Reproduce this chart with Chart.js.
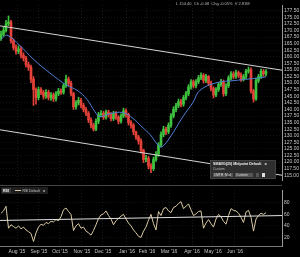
<!DOCTYPE html>
<html><head><meta charset="utf-8">
<script src="https://cdn.jsdelivr.net/npm/chart.js@4.4.0/dist/chart.umd.min.js"></script>
<style>
html,body{margin:0;padding:0;background:#000;width:300px;height:257px;overflow:hidden}
#c1{position:absolute;left:0;top:0}
#c2{position:absolute;left:0;top:185px}
</style></head><body>
<canvas id="c1" width="300" height="185"></canvas>
<canvas id="c2" width="300" height="72"></canvas>
<script>
const monthLabels = ["Aug '15","Sep '15","Oct '15","Nov '15","Dec '15","Jan '16","Feb '16","Mar '16","Apr '16","May '16","Jun '16"];
const monthPos = [6.4,15.2,23.6,32.4,40.8,50.4,58.4,67.2,76.4,84.8,93.6];

const opens = [167.0,168.5,170.0,172.5,173.2,166.0,163.5,162.0,163.0,160.5,
159.5,157.0,156.0,151.5,147.5,144.5,147.5,146.5,145.0,146.5,
144.5,145.5,144.0,146.0,147.0,146.5,149.0,151.5,150.0,146.0,
141.0,142.5,143.5,141.5,140.0,138.5,136.0,134.0,132.5,135.5,
138.0,138.5,137.0,139.0,138.0,136.5,138.5,137.0,135.5,137.5,
139.5,138.0,135.0,134.0,131.5,129.5,128.0,124.5,121.0,121.5,
118.5,117.5,121.0,123.0,126.5,130.5,132.5,131.5,134.0,137.5,
140.0,141.5,143.0,142.0,144.5,146.0,148.5,150.5,149.0,150.5,
152.0,153.0,151.0,152.5,150.0,148.0,145.5,147.5,149.5,150.5,
146.0,149.0,152.0,153.5,152.5,154.0,153.0,151.5,152.5,154.5,
155.0,147.0,144.0,151.0,152.5,154.5,153.5];
const closes = [168.5,170.0,172.5,173.2,166.0,163.5,162.0,163.0,160.5,159.5,
157.0,156.0,151.5,147.5,144.5,147.5,146.5,145.0,146.5,144.5,
145.5,144.0,146.0,147.0,146.5,149.0,151.5,150.0,146.0,141.0,
142.5,143.5,141.5,140.0,138.5,136.0,134.0,132.5,135.5,138.0,
138.5,137.0,139.0,138.0,136.5,138.5,137.0,135.5,137.5,139.5,
138.0,135.0,134.0,131.5,129.5,128.0,124.5,121.0,121.5,118.5,
117.5,121.0,123.0,126.5,130.5,132.5,131.5,134.0,137.5,140.0,
141.5,143.0,142.0,144.5,146.0,148.5,150.5,149.0,150.5,152.0,
153.0,151.0,152.5,150.0,148.0,145.5,147.5,149.5,150.5,146.0,
149.0,152.0,153.5,152.5,154.0,153.0,151.5,152.5,154.5,155.0,
147.0,144.0,151.0,152.5,154.5,153.5,154.4];
const highs = [169.8,171.2,173.8,175.5,173.8,166.8,164.5,164.2,163.8,161.5,
160.2,158.0,156.8,152.5,148.2,148.5,148.3,147.2,147.5,147.3,
146.4,146.3,146.8,148.0,147.8,149.8,153.0,152.3,150.8,146.5,
143.4,144.6,144.2,142.3,140.8,139.2,136.8,134.7,136.4,138.9,
139.6,139.3,139.8,139.7,138.8,139.3,139.2,137.6,138.3,140.5,
140.2,138.6,135.8,134.6,131.8,130.2,128.8,124.9,122.6,122.2,
119.4,121.9,124.0,127.4,131.5,133.6,133.3,134.9,138.4,141.0,
142.3,143.9,143.8,145.3,146.9,149.4,151.3,151.2,151.3,152.9,
153.9,153.6,153.3,152.9,150.8,148.6,148.3,150.2,151.4,151.2,
149.8,152.8,154.4,154.3,154.9,154.6,153.9,153.3,155.2,156.1,
155.8,147.6,151.9,153.3,155.3,155.2,155.1];
const lows = [166.2,167.8,169.3,171.8,165.2,162.6,161.0,161.2,159.6,158.4,
156.1,154.8,150.2,141.5,142.0,143.6,145.6,143.9,144.2,143.6,
143.4,143.0,143.1,145.2,145.7,145.8,148.4,149.0,145.1,140.0,
140.1,141.7,140.6,139.1,137.6,135.0,133.0,131.8,131.9,134.6,
137.2,136.2,136.3,137.1,135.6,135.8,136.2,134.5,134.8,136.9,
137.1,134.1,132.9,130.4,128.6,126.8,123.4,119.8,120.1,117.4,
116.0,116.8,120.3,122.2,125.8,129.6,130.4,130.8,133.2,136.8,
139.1,140.7,141.0,141.2,143.6,145.2,147.7,148.1,148.2,149.8,
151.3,150.0,150.2,149.1,147.0,144.4,144.8,146.8,148.7,145.0,
145.2,148.3,151.2,151.6,151.8,152.1,150.6,150.8,151.7,153.8,
146.2,142.8,143.4,150.2,151.8,152.6,152.7];

const maX = [0,2.4,7.6,12.8,19.6,26.4,30.4,34.4,37.6,39.6,43.6,48.8,52.8,56.8,59.6,62.8,64.4,67.6,72.8,76.8,79.6,86.4,92.8,99.6,103.6,106];
const maVals = [166.6,168.2,164.2,159.2,153.8,149.1,147.3,143.8,139.1,137.3,138.4,138.8,136.6,133.0,130.5,126.5,125.8,129.4,137.3,142.7,147.3,150.2,150.9,151.6,152.0,152.4];

const trendX = [-0.4,112.4];
const upperTrend = [171.75,154.9];
const lowerTrend = [132.26,115.0];

const rsi = [62,66,74,36,42,39,36,40,35,38,
33,30,27,13,28,38,43,41,46,44,
48,47,51,49,56,68,71,65,60,32,
40,44,36,38,31,28,24,32,42,53,
59,61,66,58,52,42,49,53,57,60,
52,45,40,33,28,22,20,31,38,50,
60,44,33,65,58,70,72,66,63,72,
74,79,82,70,74,78,68,58,61,65,
66,36,45,51,44,38,52,60,56,48,
43,58,70,67,66,62,55,46,64,67,
55,31,52,58,62,60,63];
const rsiTrend = [49.5,58.0];
const rsiTicks = [20,40,60,80];

const UP = '#3fc43f', DN = '#e5433a';
const FONT = '"Liberation Sans", Arial, sans-serif';
Chart.defaults.font.family = FONT;
Chart.defaults.animation = false;

const idx = closes.map((_, i) => i);
const colors = idx.map(i => closes[i] >= opens[i] ? UP : DN);
const monthTicks = (scale) => { scale.ticks = monthPos.map(v => ({value: v})); };

const overlay = {
  id: 'overlay',
  afterDraw(chart) {
    const ctx = chart.ctx;
    ctx.save();
    ctx.font = '4px ' + FONT;
    ctx.fillStyle = '#bbbbbb';
    ctx.textBaseline = 'middle';
    ctx.fillText('L 154.40  Ch -0.08  Chg -0.05%  V 2.81M', 176, 3.5);
    ctx.fillStyle = '#2e2e2e';
    ctx.fillRect(210, 160, 66, 19);
    ctx.strokeStyle = '#555';
    ctx.lineWidth = 0.5;
    ctx.strokeRect(210.5, 160.5, 65, 18);
    ctx.fillStyle = '#eeeeee';
    ctx.font = 'bold 3.6px ' + FONT;
    ctx.fillText('SMAVG(20) Midpoint Default  \u25C4', 213, 164);
    ctx.font = '3.4px ' + FONT;
    ctx.fillStyle = '#bbbbbb';
    ctx.fillText('Custom', 213, 169);
    ctx.fillStyle = '#555';
    ctx.fillRect(213, 173, 14, 4);
    ctx.fillRect(230, 173, 3, 4);
    ctx.fillRect(235, 173, 18, 4);
    ctx.fillRect(256, 173, 3, 4);
    ctx.fillStyle = '#ddd';
    ctx.fillText('1MTH  Mid', 214, 175);
    ctx.fillText('Custom', 236, 175);
    ctx.fillRect(262, 173, 3, 4);
    ctx.restore();
  }
};

new Chart(document.getElementById('c1'), {
  type: 'bar',
  data: {
    datasets: [
      {type:'line', data: trendX.map((x,i)=>({x, y: upperTrend[i]})), borderColor:'#d6d6d6', borderWidth:1, pointRadius:0, order:0},
      {type:'line', data: trendX.map((x,i)=>({x, y: lowerTrend[i]})), borderColor:'#d6d6d6', borderWidth:1, pointRadius:0, order:0},
      {type:'line', data: maX.map((x,i)=>({x, y: maVals[i]})), borderColor:'#4f7fd6', borderWidth:1, pointRadius:0, tension:0.4, order:0},
      {data: idx.map(i=>({x:i, y:[opens[i], closes[i]]})), backgroundColor: colors, barThickness:2, minBarLength:1, grouped:false, order:1},
      {data: idx.map(i=>({x:i, y:[lows[i], highs[i]]})), backgroundColor: colors, barThickness:1, grouped:false, order:2}
    ]
  },
  options: {
    responsive:false, animation:false,
    layout:{padding:0},
    plugins:{legend:{display:false}, tooltip:{enabled:false}},
    scales:{
      x:{type:'linear', min:-0.4, max:112.4, offset:false,
         afterBuildTicks: monthTicks,
         ticks:{display:false},
         grid:{color:'rgba(255,255,255,0.09)', drawTicks:false, offset:false},
         border:{display:false, dash:[1,2]},
         afterFit:(s)=>{s.height=0;}},
      y:{position:'right', min:113.2, max:179.66,
         ticks:{stepSize:2.5, includeBounds:false, autoSkip:false, color:'#c8c8c8', font:{size:5}, padding:2,
                callback:(v)=>Number(v).toFixed(2)},
         grid:{color:'rgba(255,255,255,0.07)', drawTicks:false},
         border:{display:true, color:'#9a9a9a', width:1, dash:[1,2]},
         afterFit:(s)=>{s.width=18;}}
    }
  },
  plugins:[overlay]
});

const rsiOverlay = {
  id: 'rsiOverlay',
  afterDraw(chart) {
    const ctx = chart.ctx;
    ctx.save();
    ctx.strokeStyle = '#444';
    ctx.lineWidth = 1;
    ctx.beginPath(); ctx.moveTo(0, 0.5); ctx.lineTo(282, 0.5); ctx.stroke();
    ctx.fillStyle = '#1e1e1e';
    ctx.fillRect(1, 2, 47, 7);
    ctx.fillStyle = '#3a3a3a';
    ctx.fillRect(2, 3, 9, 5);
    ctx.font = 'bold 3.6px ' + FONT;
    ctx.fillStyle = '#eee';
    ctx.textBaseline = 'middle';
    ctx.fillText('RSI', 3, 5.6);
    ctx.strokeStyle = '#d9c9a3';
    ctx.beginPath(); ctx.moveTo(15, 5.5); ctx.lineTo(21, 5.5); ctx.stroke();
    ctx.font = '3.4px ' + FONT;
    ctx.fillStyle = '#ccc';
    ctx.fillText('RSI Default', 22.5, 5.6);
    ctx.fillText('\u25C4', 42, 5.6);
    ctx.restore();
  }
};

new Chart(document.getElementById('c2'), {
  type: 'line',
  data: {
    datasets: [
      {data: trendX.map((x,i)=>({x, y: rsiTrend[i]})), borderColor:'#e0e0e0', borderWidth:1, pointRadius:0},
      {data: idx.map(i=>({x:i, y: rsi[i]})), borderColor:'#d9c9a3', borderWidth:1, pointRadius:0, tension:0}
    ]
  },
  options: {
    responsive:false, animation:false,
    layout:{padding:0},
    plugins:{legend:{display:false}, tooltip:{enabled:false}},
    scales:{
      x:{type:'linear', min:-0.4, max:112.4, offset:false,
         afterBuildTicks: monthTicks,
         ticks:{color:'#c8c8c8', font:{size:5}, padding:3, maxRotation:0, autoSkip:false,
                callback:(v, i)=>monthLabels[i]},
         grid:{color:'rgba(255,255,255,0.09)', drawTicks:false},
         border:{display:true, color:'#777', dash:[1,2]},
         afterFit:(s)=>{s.height=11;}},
      y:{position:'right', min:5.2, max:102.3,
         afterBuildTicks:(s)=>{ s.ticks = rsiTicks.map(v=>({value:v})); },
         ticks:{color:'#c8c8c8', font:{size:5}, padding:2, autoSkip:false},
         grid:{color:'rgba(255,255,255,0.07)', drawTicks:false},
         border:{display:true, color:'#9a9a9a', width:1, dash:[1,2]},
         afterFit:(s)=>{s.width=18;}}
    }
  },
  plugins:[rsiOverlay]
});
</script>
</body></html>
